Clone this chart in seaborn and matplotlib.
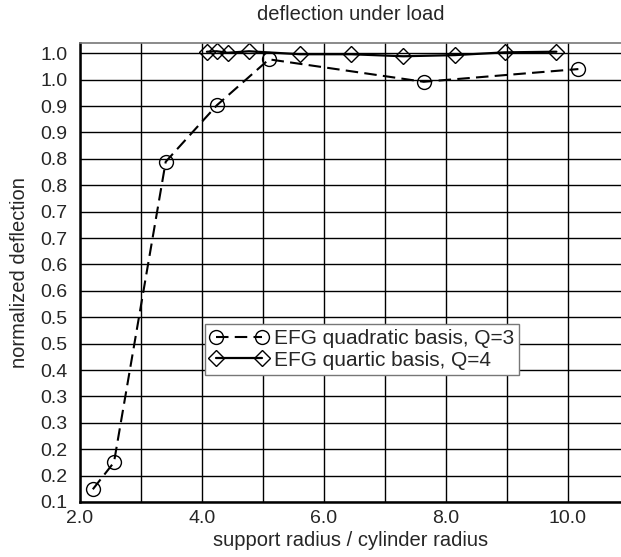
import numpy as np
import seaborn as sns
import matplotlib
matplotlib.use("Agg")
import matplotlib.pyplot as plt
import matplotlib.ticker as plticker

# quadratic basis, Q=3 (circles, dashed)
quad_radius = [2.21, 2.557, 3.405, 4.246, 5.098, 7.634, 10.17]
quad_defl = [0.1255, 0.1796, 0.7824, 0.896, 0.9878, 0.9428, 0.9683]

# quartic basis, Q=4 (diamonds, solid)
quart_radius = [4.08, 4.24, 4.42, 4.77, 5.61, 6.45, 7.30, 8.15, 8.96, 9.81]
quart_defl = [1.003, 1.004, 1.001, 1.004, 0.998, 0.998, 0.994, 0.9963, 1.0018, 1.0031]

x_ticks = [2.0, 4.0, 6.0, 8.0, 10.0]
x_tick_labels = ["2.0", "4.0", "6.0", "8.0", "10.0"]
y_ticks = list(np.linspace(0.1, 1.0, 18))
y_tick_labels = ["0.1", "0.2", "0.2", "0.3", "0.3", "0.4", "0.5", "0.5", "0.6",
                 "0.6", "0.7", "0.7", "0.8", "0.8", "0.9", "0.9", "1.0", "1.0"]

sns.set_style("white")
plt.rcParams["font.family"] = ["Liberation Sans", "DejaVu Sans"]
FS_TICK = 14
FS_LABEL = 14.5
FS_LEG = 15

fig = plt.figure(figsize=(6.21, 5.57), dpi=100)
ax = fig.add_axes([80 / 621, 55 / 557, 541 / 621, 459.3 / 557])

sns.lineplot(x=quad_radius, y=quad_defl, ax=ax, color="k", sort=False,
             linestyle=(0, (6, 3)), linewidth=1.5,
             marker="o", markersize=10, markerfacecolor="none",
             markeredgecolor="k", markeredgewidth=1.0,
             label="EFG quadratic basis, Q=3")
sns.lineplot(x=quart_radius, y=quart_defl, ax=ax, color="k", sort=False,
             linestyle="-", linewidth=1.6,
             marker="D", markersize=8, markerfacecolor="none",
             markeredgecolor="k", markeredgewidth=1.0,
             label="EFG quartic basis, Q=4")

d = 0.9 / 17
ax.set_xlim(2.0, 2.0 + 541 / 61)
ax.set_ylim(0.1, 1.0 + 0.4 * d)

ax.set_xticks(x_ticks)
ax.set_xticklabels(x_tick_labels)
ax.xaxis.set_minor_locator(plticker.MultipleLocator(1.0))
ax.set_yticks(y_ticks)
ax.set_yticklabels(y_tick_labels)
ax.tick_params(axis="both", which="both", length=0, labelsize=FS_TICK)
ax.tick_params(axis="x", pad=6)
ax.tick_params(axis="y", pad=9)

ax.grid(True, which="both", color="k", linewidth=1.0)
ax.set_axisbelow(True)

for side in ["left", "bottom"]:
    ax.spines[side].set_color("k")
    ax.spines[side].set_linewidth(1.8)
ax.spines["top"].set_color("#777777")
ax.spines["top"].set_linewidth(1.2)
ax.spines["right"].set_visible(False)

ax.set_title("deflection under load", fontsize=FS_LABEL, pad=16)
ax.set_xlabel("support radius / cylinder radius", fontsize=FS_LABEL, labelpad=3)
ax.set_ylabel("normalized deflection", fontsize=FS_LABEL, labelpad=8)

leg = ax.legend(loc="lower left", bbox_to_anchor=(125 / 541, 127 / 459.3),
                borderaxespad=0, numpoints=2, handlelength=2.8,
                fancybox=False, framealpha=1, edgecolor="#777777",
                borderpad=0.25, labelspacing=0.12, handletextpad=0.25,
                fontsize=FS_LEG)
leg.get_frame().set_linewidth(1.0)

fig.savefig("out.png", dpi=100)
